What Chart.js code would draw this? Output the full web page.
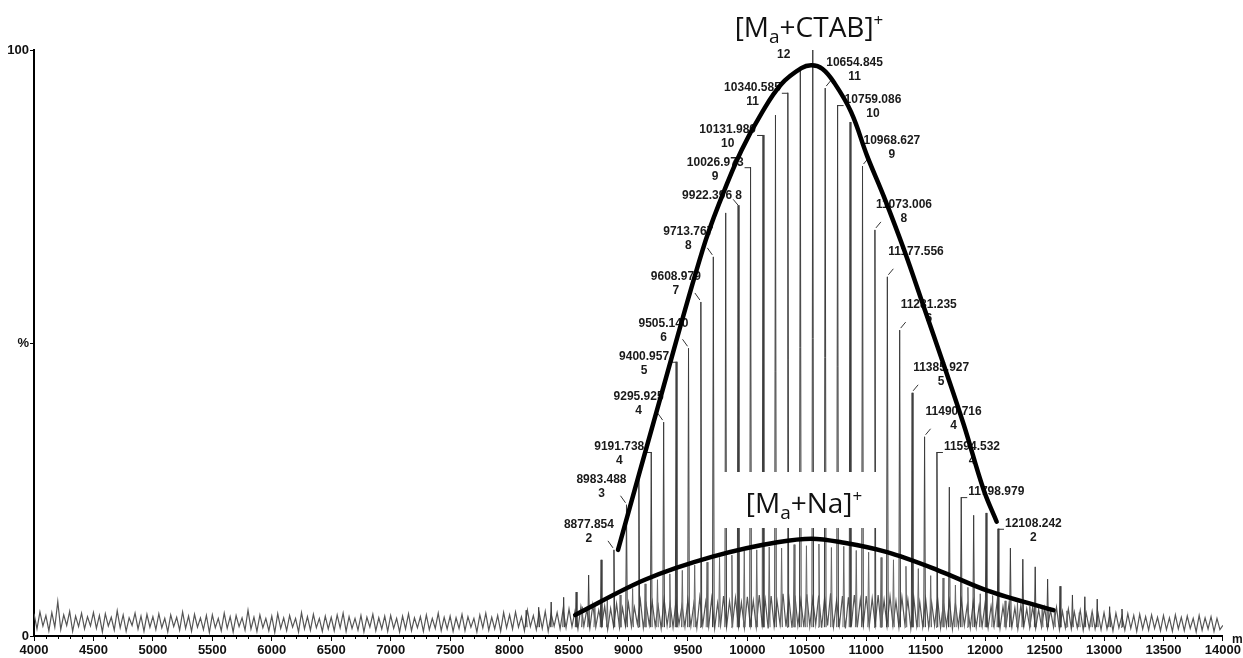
<!DOCTYPE html>
<html>
<head>
<meta charset="utf-8">
<title>MALDI spectrum</title>
<script src="https://cdn.jsdelivr.net/npm/chart.js"></script>
<style>
    body { margin: 0; background: #fff; }
    canvas { display: block; }
</style>
</head>
<body>
<canvas id="spectrum" width="1243" height="658"></canvas>
<script>
// axis range (m/z) and intensity (%)
const mzMin = 4000;
const mzMax = 14000;
const mzStep = 500;
const intTicks = [0, 50, 100];

// baseline noise, one value every 25 Da starting at 4000
const noiseStart = 4000;
const noiseStep = 25;
const noise = [
    3.8,1.2,4.1,1.7,3.5,0.9,4.0,1.5,5.9,1.1,3.6,1.8,4.2,0.8,3.4,1.6,3.9,1.2,3.3,1.7,
    4.0,1.3,3.5,0.7,3.8,1.7,3.2,1.0,4.3,1.4,3.6,0.8,3.1,1.8,3.9,1.2,3.4,0.8,3.7,1.5,
    3.3,1.1,3.8,1.4,3.0,0.7,3.6,1.6,3.2,1.0,4.1,1.3,3.4,0.8,3.7,1.5,3.1,1.1,3.5,0.6,
    3.6,1.4,3.0,0.9,3.9,1.3,3.3,0.7,3.5,1.6,3.1,1.0,4.4,1.2,3.2,0.8,3.6,1.4,3.0,0.9,
    3.4,0.6,3.8,1.3,3.1,0.9,3.5,1.5,3.0,0.7,4.0,1.2,3.3,1.0,3.7,1.4,3.0,0.8,3.4,1.2,
    3.2,0.9,3.6,1.4,3.9,0.8,3.3,1.3,3.0,1.0,3.5,0.7,3.2,1.5,3.7,0.9,3.1,1.2,3.4,0.8,
    3.5,1.3,3.0,0.7,3.4,1.2,3.8,0.9,3.1,1.4,3.3,0.8,3.6,1.1,3.0,1.3,3.9,0.9,3.2,1.2,
    3.4,0.8,3.1,1.3,3.7,0.9,3.3,1.5,3.0,0.7,3.6,1.4,3.9,1.0,3.2,1.2,3.5,0.8,4.0,1.4,
    3.6,1.2,4.1,1.5,3.3,0.9,4.4,1.6,3.5,1.1,3.9,1.3,4.2,0.8,3.7,1.7,4.0,1.2,4.5,1.4,
    4.6,1.6,4.2,1.2,5.0,1.7,4.5,1.3,5.3,1.5,4.4,1.8,5.1,1.1,4.7,1.6,5.5,1.4,4.8,1.7,
    5.6,1.6,4.9,2.0,6.1,1.4,5.3,1.9,5.8,1.7,5.1,1.3,6.3,1.8,5.5,1.5,6.0,2.0,5.2,1.6,
    6.2,1.7,5.5,1.4,6.6,1.9,5.8,1.6,6.4,1.3,5.6,1.8,6.8,1.5,5.9,2.0,6.5,1.6,5.7,1.4,
    6.7,1.8,6.0,1.5,7.0,1.9,6.2,1.3,6.8,1.7,5.9,2.0,7.2,1.6,6.4,1.4,6.9,1.8,6.1,1.5,
    7.1,1.7,6.3,2.0,6.9,1.4,6.5,1.8,7.3,1.6,6.0,1.9,6.8,1.3,6.6,1.7,7.0,1.5,6.2,1.8,
    6.8,1.6,6.4,1.9,7.0,1.4,6.1,1.7,6.7,1.8,5.9,1.5,6.6,2.0,6.2,1.3,6.5,1.7,5.8,1.6,
    6.3,1.5,5.7,1.8,6.4,1.4,5.6,1.7,6.0,1.2,5.5,1.6,6.1,1.8,5.3,1.4,5.8,1.5,5.2,1.7,
    5.6,1.4,5.1,1.7,5.7,1.3,5.0,1.6,5.4,1.5,4.8,1.2,5.2,1.6,4.6,1.4,5.0,1.3,4.5,1.5,
    4.8,1.3,4.4,1.5,4.9,1.1,4.2,1.4,4.6,1.2,4.1,1.4,4.4,1.0,3.9,1.3,4.2,1.2,3.8,1.1,
    4.0,1.2,3.6,0.9,3.9,1.4,3.4,1.0,3.8,1.3,3.5,0.8,3.7,1.2,3.3,1.0,3.6,1.3,3.2,0.9,
    3.5,1.1,3.1,0.8,3.6,1.2,3.2,0.9,3.4,1.3,3.0,0.7,3.5,1.0,3.1,1.2,3.3,0.8,3.0,1.1,
    1.8
];

// [Ma+CTAB]+ series
const ctabMz = [8140, 8245, 8350, 8455, 8560, 8665, 8770, 8877.854, 8983.488, 9087.5,
    9191.738, 9295.925, 9400.957, 9505.14, 9608.979, 9713.767, 9818, 9922.396, 10026.973, 10131.98,
    10236.5, 10340.585, 10445.5, 10550.2, 10654.845, 10759.086, 10863.9, 10968.627, 11073.006, 11177.556,
    11281.235, 11385.927, 11490.716, 11594.532, 11698.9, 11798.979, 11903.5, 12007.8, 12108.242, 12212.5,
    12316.9, 12421.2, 12525.5, 12629.8, 12734.2, 12838.5, 12942.8, 13047, 13151];
const ctabInt = [4.4, 4.9, 5.8, 6.6, 7.5, 10.4, 13.0, 14.7, 22.4, 27.0,
    31.4, 36.5, 46.8, 49.1, 57.0, 64.7, 72.2, 73.5, 80.0, 85.5,
    88.9, 92.7, 96.9, 100, 93.5, 90.6, 87.7, 80.2, 69.3, 61.3,
    52.2, 41.5, 34.0, 31.4, 25.4, 23.7, 20.6, 21.0, 18.3, 15.0,
    13.1, 11.8, 9.7, 8.5, 7.0, 6.7, 6.3, 5.0, 4.6];

// [Ma+Na]+ series, sitting between the CTAB peaks
const naMz = [8612, 8717, 8822, 8930, 9035, 9140, 9244, 9348, 9453, 9557,
    9661, 9766, 9870, 9974, 10079, 10184, 10288, 10393, 10497, 10602,
    10707, 10811, 10916, 11020, 11125, 11229, 11334, 11438, 11542, 11646,
    11750, 11855, 11959, 12063, 12168, 12272, 12376, 12480, 12584, 12688,
    12792, 12896];
const naInt = [5.0, 5.6, 6.4, 7.0, 8.1, 8.9, 9.6, 10.6, 11.2, 12.1,
    12.6, 13.4, 13.8, 14.5, 14.7, 15.2, 15.0, 15.6, 15.4, 15.7,
    15.1, 15.3, 14.6, 14.3, 13.4, 13.0, 11.9, 11.5, 10.3, 9.9,
    8.7, 8.3, 7.2, 6.9, 6.0, 5.7, 5.1, 4.9, 4.5, 4.3,
    4.0, 3.8];

// hand drawn envelopes
const ctabEnvMz = [8912, 9264, 9624, 9784, 9951, 10119, 10287, 10454, 10540, 10630,
    10731, 10873, 11008, 11150, 11318, 11485, 11653, 11821, 11988, 12097];
const ctabEnvInt = [14.7, 40.3, 65.9, 74.9, 82.9, 89.2, 94.2, 96.9, 97.4, 96.8,
    94.4, 89.4, 81.9, 74.9, 65.9, 56.1, 46.2, 36.0, 24.9, 19.5];
const naEnvMz = [8552, 9138, 9700, 10253, 10538, 10815, 11175, 11594, 12013, 12575];
const naEnvInt = [3.6, 9.6, 13.5, 16.0, 16.6, 15.9, 14.3, 11.3, 7.8, 4.4];

// peak annotations
const labelAt = [8877.854, 8983.488, 9191.738, 9295.925, 9400.957, 9505.14, 9608.979, 9713.767,
    9922.396, 10026.973, 10131.98, 10340.585, 10550.2, 10654.845, 10759.086, 10968.627,
    11073.006, 11177.556, 11281.235, 11385.927, 11490.716, 11594.532, 11798.979, 12108.242];
const labelText = ['8877.854', '8983.488', '9191.738', '9295.925', '9400.957', '9505.140', '9608.979', '9713.767',
    '9922.396', '10026.973', '10131.980', '10340.585', '', '10654.845', '10759.086', '10968.627',
    '11073.006', '11177.556', '11281.235', '11385.927', '11490.716', '11594.532', '11798.979', '12108.242'];
const labelCharge = ['2', '3', '4', '4', '5', '6', '7', '8',
    '8', '9', '10', '11', '12', '11', '10', '9',
    '8', '', '6', '5', '4', '4', '', '2'];

// A = above the peak, B = beside it, I = inline, T = charge only
const labelMode = ['A', 'A', 'B', 'A', 'B', 'A', 'A', 'A',
    'I', 'B', 'B', 'B', 'T', 'A', 'B', 'A',
    'A', 'A', 'A', 'A', 'A', 'B', 'B', 'B'];

const smallFont = '"Liberation Sans Narrow", "Liberation Sans", Arial, sans-serif';

function sticks(mz, inten) {
    const pts = [];
    mz.forEach((m, i) => {
        pts.push({ x: m - 7, y: 1.5 }, { x: m, y: inten[i] }, { x: m + 7, y: 1.5 }, { x: m + 8, y: null });
    });
    return pts;
}

function richText(ctx, cx, base, parts) {
    let w = 0;
    parts.forEach(p => {
        ctx.font = p[1] + 'px "Open Sans", "Noto Sans", sans-serif';
        w += ctx.measureText(p[0]).width;
    });
    let xx = cx - w / 2;
    ctx.textAlign = 'left';
    ctx.textBaseline = 'alphabetic';
    parts.forEach(p => {
        ctx.font = p[1] + 'px "Open Sans", "Noto Sans", sans-serif';
        ctx.fillText(p[0], xx, base + p[2]);
        xx += ctx.measureText(p[0]).width;
    });
}

function line(ctx, x1, y1, x2, y2) {
    ctx.beginPath();
    ctx.moveTo(x1, y1);
    ctx.lineTo(x2, y2);
    ctx.stroke();
}

const minorTicks = {
    id: 'minorTicks',
    afterDraw(chart) {
        const { ctx, scales: { x }, chartArea } = chart;
        ctx.save();
        ctx.strokeStyle = '#000';
        ctx.lineWidth = 1;
        for (let v = mzMin; v <= mzMax; v += 100) {
            if (v % mzStep === 0) continue;
            const px = Math.round(x.getPixelForValue(v)) + 0.5;
            line(ctx, px, chartArea.bottom, px, chartArea.bottom + 3);
        }
        ctx.font = 'bold 12px ' + smallFont;
        ctx.fillStyle = '#111';
        ctx.textAlign = 'left';
        ctx.textBaseline = 'middle';
        ctx.fillText('m/z', 1232, 640);
        richText(ctx, 809, 37, [['[M', 28, 0], ['a', 19, 6], ['+CTAB]', 28, 0], ['+', 17, -11]]);
        ctx.restore();
    }
};

const peakLabels = {
    id: 'peakLabels',
    beforeDatasetDraw(chart, args) {
        if (args.index !== 4) return;
        const { ctx, scales: { x, y } } = chart;
        ctx.save();
        // white patch behind the [Ma+Na]+ tag
        ctx.fillStyle = '#fff';
        ctx.fillRect(724, 472, 153, 56);
        ctx.fillStyle = '#111';
        richText(ctx, 804, 513, [['[M', 28, 0], ['a', 19, 6], ['+Na]', 28, 0], ['+', 17, -11]]);

        ctx.font = 'bold 12px ' + smallFont;
        ctx.textBaseline = 'middle';
        ctx.fillStyle = '#1a1a1a';
        ctx.strokeStyle = '#333';
        ctx.lineWidth = 1;
        labelAt.forEach((m, i) => {
            let k = 0;
            ctabMz.forEach((c, j) => { if (Math.abs(c - m) < Math.abs(ctabMz[k] - m)) k = j; });
            const px = x.getPixelForValue(ctabMz[k]);
            const top = y.getPixelForValue(ctabInt[k]);
            const left = m < 10550;
            const mode = labelMode[i];
            const text = labelText[i];
            const tw = ctx.measureText(text).width;
            let tx, ty;
            if (mode === 'T') {
                ctx.textAlign = 'center';
                ctx.fillText(labelCharge[i], px - 29, top + 5);
                return;
            }
            if (mode === 'I') {
                ctx.textAlign = 'right';
                ctx.fillText(text, px - 6, top - 10);
                ctx.textAlign = 'left';
                ctx.fillText(labelCharge[i], px - 3, top - 10);
                line(ctx, px - 5, top - 6, px, top);
                return;
            }
            if (mode === 'A') {
                ty = top - 25;
                tx = left ? px - tw : px + 1;
                if (left) line(ctx, px - 6, top - 9, px - 1, top - 2);
                else line(ctx, px + 1, top - 2, px + 6, top - 8);
            } else {
                ty = top - 5;
                tx = left ? px - 7 - tw : px + 7;
                if (left) line(ctx, px - 6, top + 0.5, px, top + 0.5);
                else line(ctx, px, top + 0.5, px + 6, top + 0.5);
            }
            ctx.textAlign = 'left';
            ctx.fillText(text, tx, ty);
            ctx.textAlign = 'center';
            ctx.fillText(labelCharge[i], tx + tw / 2, ty + 14);
        });
        ctx.restore();
    }
};

const toPoints = (xs, ys) => xs.map((v, i) => ({ x: v, y: ys[i] }));

new Chart(document.getElementById('spectrum'), {
    type: 'line',
    data: {
        datasets: [
            {
                data: noise.map((v, i) => ({ x: noiseStart + i * noiseStep, y: v })),
                borderColor: '#555',
                borderWidth: 1.2,
                order: 5
            },
            {
                data: sticks(naMz, naInt),
                borderColor: '#666',
                borderWidth: 1,
                order: 4
            },
            {
                data: sticks(ctabMz, ctabInt),
                borderColor: '#3c3c3c',
                borderWidth: 1,
                order: 3
            },
            {
                data: toPoints(ctabEnvMz, ctabEnvInt),
                borderColor: '#000',
                borderWidth: 4.5,
                tension: 0.4,
                borderCapStyle: 'round',
                order: 0
            },
            {
                data: toPoints(naEnvMz, naEnvInt),
                borderColor: '#000',
                borderWidth: 4.5,
                cubicInterpolationMode: 'monotone',
                borderCapStyle: 'round',
                order: 1
            }
        ]
    },
    options: {
        responsive: false,
        animation: false,
        spanGaps: false,
        elements: { point: { radius: 0 }, line: { tension: 0 } },
        layout: { padding: { top: 50, right: 15, left: 0, bottom: 0 } },
        scales: {
            x: {
                type: 'linear',
                min: mzMin,
                max: mzMax,
                afterFit: s => { s.height = 22; },
                ticks: {
                    stepSize: mzStep,
                    autoSkip: false,
                    maxRotation: 0,
                    minRotation: 0,
                    padding: 2,
                    color: '#111',
                    font: { family: smallFont, size: 13, weight: 'bold' },
                    callback: v => String(v)
                },
                grid: { drawOnChartArea: false, drawTicks: true, tickLength: 5, color: '#000' },
                border: { display: true, color: '#000', width: 2 }
            },
            y: {
                min: 0,
                max: 100,
                afterFit: s => { s.width = 34; },
                afterBuildTicks: s => { s.ticks = intTicks.map(v => ({ value: v })); },
                ticks: {
                    padding: 1,
                    color: '#111',
                    font: { family: smallFont, size: 13, weight: 'bold' },
                    callback: v => (v === 50 ? '%' : String(v))
                },
                grid: { drawOnChartArea: false, drawTicks: true, tickLength: 4, color: '#000' },
                border: { display: true, color: '#000', width: 2 }
            }
        },
        plugins: {
            legend: { display: false },
            tooltip: { enabled: false }
        }
    },
    plugins: [minorTicks, peakLabels]
});
</script>
</body>
</html>
